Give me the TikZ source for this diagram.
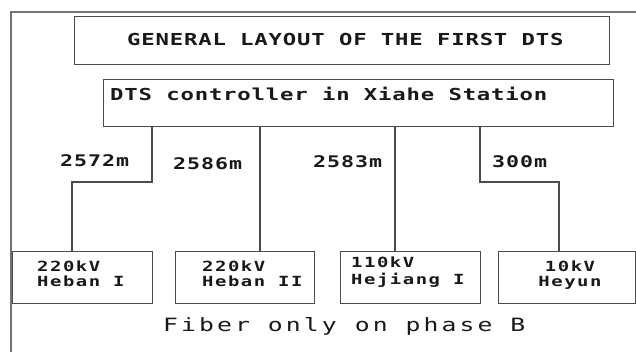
\documentclass[tikz,border=0pt]{standalone}
\usepackage{fontspec}
\newfontfamily\titlef[FakeStretch=1.35,LetterSpace=5]{DejaVu Sans Mono Bold}
\newfontfamily\labelf[FakeStretch=1.35,LetterSpace=6]{DejaVu Sans Mono Bold}
\newfontfamily\boxf[FakeStretch=1.35,LetterSpace=11]{DejaVu Sans Mono Bold}
\newfontfamily\fiberf[FakeStretch=1.35,LetterSpace=17]{DejaVu Sans Mono}
\begin{document}
\begin{tikzpicture}[x=1pt,y=-1pt,
  frameline/.style={draw=black!55,line width=1.2pt},
  boxline/.style={draw=black!70,line width=1.4pt},
  wire/.style={draw=black!70,line width=1.3pt},
  txt/.style={inner sep=0pt,text=black!90},
  titletxt/.style={txt,font=\titlef\fontsize{16.5}{18}\selectfont},
  labeltxt/.style={txt,font=\labelf\fontsize{16}{18}\selectfont},
  boxtxt/.style={txt,font=\boxf\fontsize{14}{15}\selectfont},
  fibertxt/.style={txt,font=\fiberf\fontsize{18.3}{20}\selectfont}]
\useasboundingbox (0,0) rectangle (636,352);
\fill[white] (0,0) rectangle (636,352);
% outer frame
\coordinate (ftl) at (11,12);
\coordinate (fbl) at (11,352);
\coordinate (ftr) at (636,12);
\draw[frameline] (fbl) -- (ftl) -- (ftr);
% title box
\node[boxline,rectangle,inner sep=0pt,minimum width=535pt,minimum height=48pt,anchor=north west] (title) at (74,16) {};
\node[titletxt,anchor=west] (titletext) at (127,39) {GENERAL LAYOUT OF THE FIRST DTS};
% controller box
\node[boxline,rectangle,inner sep=0pt,minimum width=510pt,minimum height=47pt,anchor=north west] (ctrl) at (103,79) {};
\node[titletxt,anchor=base west] (ctrltext) at (110,101) {DTS controller in Xiahe Station};
% station boxes
\node[boxline,rectangle,inner sep=0pt,minimum width=140pt,minimum height=52pt,anchor=north west] (b1) at (12,251) {};
\node[boxline,rectangle,inner sep=0pt,minimum width=139pt,minimum height=52pt,anchor=north west] (b2) at (175,251) {};
\node[boxline,rectangle,inner sep=0pt,minimum width=140pt,minimum height=52pt,anchor=north west] (b3) at (340,251) {};
\node[boxline,rectangle,inner sep=0pt,minimum width=137pt,minimum height=52pt,anchor=north west] (b4) at (498,251) {};
\node[boxtxt,anchor=base west] (b1a) at (37,272) {220kV};
\node[boxtxt,anchor=base west] (b1b) at (37,287) {Heban I};
\node[boxtxt,anchor=base west] (b2a) at (202,272) {220kV};
\node[boxtxt,anchor=base west] (b2b) at (202,287) {Heban II};
\node[boxtxt,anchor=base west] (b3a) at (351,268) {110kV};
\node[boxtxt,anchor=base west] (b3b) at (351,284) {Hejiang I};
\node[boxtxt,anchor=base] (b4a) at (570,272) {10kV};
\node[boxtxt,anchor=base] (b4b) at (570,287) {Heyun};
% connectors
\coordinate (c1) at (152,126);
\coordinate (c2) at (260,126);
\coordinate (c3) at (395,126);
\coordinate (c4) at (480,126);
\coordinate (j1) at (72,182);
\coordinate (j4) at (559,182);
\draw[wire] (c1) |- (j1) -- (j1 |- b1.north);
\draw[wire] (c2) -- (c2 |- b2.north);
\draw[wire] (c3) -- (c3 |- b3.north);
\draw[wire] (c4) |- (j4) -- (j4 |- b4.north);
% length labels
\node[labeltxt,anchor=base west] (l1) at (60,167) {2572m};
\node[labeltxt,anchor=base west] (l2) at (173,170) {2586m};
\node[labeltxt,anchor=base west] (l3) at (313,168) {2583m};
\node[labeltxt,anchor=base west] (l4) at (492,168) {300m};
% footer
\node[fibertxt,anchor=base west] (fiber) at (163,331) {Fiber only on phase B};
\end{tikzpicture}
\end{document}
